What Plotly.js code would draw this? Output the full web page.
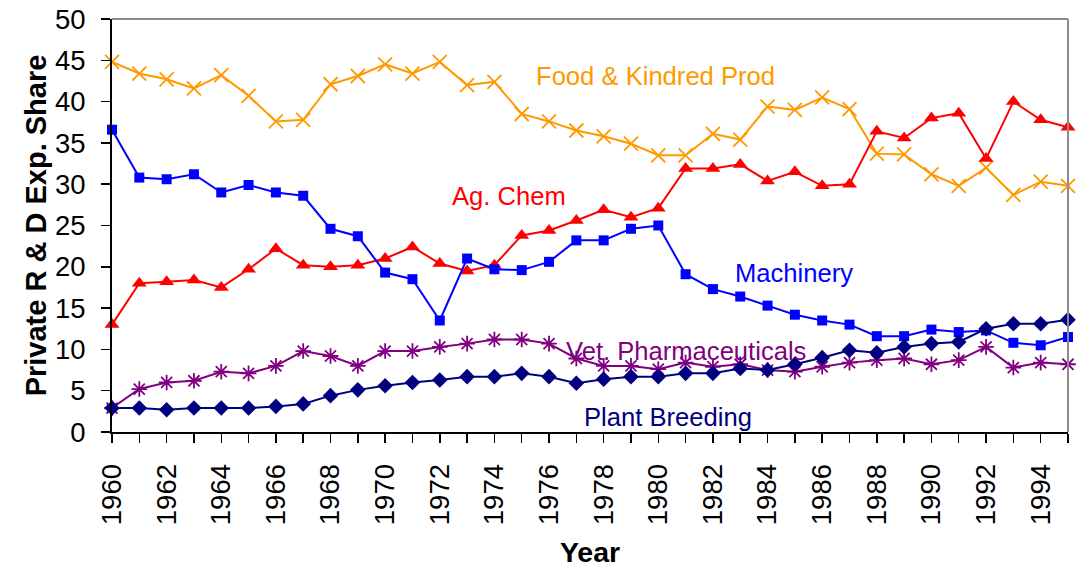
<!DOCTYPE html>
<html>
<head>
<meta charset="utf-8">
<script src="https://cdn.plot.ly/plotly-3.0.1.min.js"></script>
<style>html,body{margin:0;padding:0;background:#fff;}#chart{width:1080px;height:570px;}</style>
</head>
<body>
<div id="chart"></div>
<script>
const years = [1960,1961,1962,1963,1964,1965,1966,1967,1968,1969,1970,1971,1972,1973,1974,1975,1976,1977,1978,1979,1980,1981,1982,1983,1984,1985,1986,1987,1988,1989,1990,1991,1992,1993,1994,1995];

const foodKindred = [44.8,43.4,42.7,41.6,43.2,40.7,37.6,37.8,42.1,43.1,44.5,43.4,44.8,42.0,42.4,38.5,37.6,36.5,35.8,34.9,33.5,33.5,36.1,35.4,39.4,39.0,40.5,39.1,33.7,33.6,31.2,29.8,32.0,28.7,30.3,29.8];
const agChem      = [13.0,18.0,18.2,18.4,17.5,19.7,22.2,20.2,20.0,20.2,21.0,22.4,20.4,19.5,20.2,23.8,24.4,25.6,26.9,26.0,27.1,31.9,31.9,32.4,30.4,31.5,29.8,30.0,36.4,35.6,38.0,38.6,33.1,40.0,37.8,36.9];
const machinery   = [36.6,30.8,30.6,31.2,29.0,29.9,29.0,28.6,24.6,23.7,19.3,18.5,13.5,21.0,19.7,19.6,20.6,23.2,23.2,24.6,25.0,19.1,17.3,16.4,15.3,14.2,13.5,13.0,11.6,11.6,12.4,12.1,12.3,10.8,10.5,11.5];
const vetPharma   = [2.9,5.2,6.0,6.2,7.3,7.1,8.0,9.8,9.2,8.0,9.8,9.8,10.3,10.7,11.2,11.2,10.7,8.9,8.0,8.0,7.6,8.4,7.9,8.2,7.5,7.3,7.9,8.4,8.7,8.9,8.2,8.7,10.3,7.8,8.4,8.2];
const plantBreed  = [2.9,2.9,2.7,2.9,2.9,2.9,3.1,3.4,4.4,5.1,5.6,6.0,6.3,6.7,6.7,7.1,6.7,5.9,6.4,6.7,6.7,7.1,7.1,7.7,7.5,8.2,9.0,9.9,9.6,10.3,10.7,10.9,12.5,13.1,13.1,13.6];

const seriesNames = ["Food & Kindred Prod","Ag. Chem","Machinery","Vet. Pharmaceuticals","Plant Breeding"];
const yTitle = "Private R & D Exp. Share";
const xTitle = "Year";

const FONT = "Liberation Sans, Arial, sans-serif";

function tr(y, name, color, symbol, size) {
  return {
    x: years, y: y, name: name, type: "scatter", mode: "lines+markers",
    line: {color: color, width: 2},
    marker: {symbol: symbol, size: size, color: color, line: {color: color, width: (symbol.indexOf("open") >= 0 ? 1.8 : 0)}},
    cliponaxis: false, showlegend: false
  };
}

const data = [
  tr(foodKindred, seriesNames[0], "#FF9900", "x-thin-open", 14),
  tr(agChem, seriesNames[1], "#FF0000", "triangle-up", 13),
  tr(machinery, seriesNames[2], "#0000FF", "square", 10),
  tr(vetPharma, seriesNames[3], "#800080", "asterisk-open", 13),
  tr(plantBreed, seriesNames[4], "#000080", "diamond", 12)
];

function lab(text, x, y, color) {
  return {text: text, x: x, y: y, xref: "x", yref: "y", xanchor: "left", yanchor: "middle",
          showarrow: false, font: {family: FONT, size: 25.6, color: color}};
}

const layout = {
  width: 1080, height: 570,
  margin: {l: 112, r: 12, t: 19, b: 138},
  paper_bgcolor: "#ffffff", plot_bgcolor: "#ffffff",
  font: {family: FONT, color: "#000000"},
  xaxis: {
    range: [1960, 1995], tickmode: "linear", tick0: 1960, dtick: 2,
    ticks: "outside", ticklen: 9, tickwidth: 1.5, tickcolor: "#000",
    minor: {dtick: 1, ticks: "outside", ticklen: 9, tickwidth: 1.5, tickcolor: "#000"},
    tickangle: -90, tickfont: {family: FONT, size: 27.5, color: "#000"},
    ticklabelstandoff: 10,
    showline: true, linecolor: "#000", linewidth: 2,
    showgrid: false, zeroline: false,
    title: {text: xTitle, font: {family: FONT, size: 28.5, color: "#000", weight: "bold"}, standoff: 18}
  },
  yaxis: {
    range: [0, 50], tickmode: "linear", tick0: 0, dtick: 5,
    ticks: "outside", ticklen: 9, tickwidth: 1.5, tickcolor: "#000",
    tickfont: {family: FONT, size: 27.5, color: "#000"},
    ticklabelstandoff: 10,
    showline: true, linecolor: "#000", linewidth: 2,
    showgrid: false, zeroline: false,
    title: {text: yTitle, font: {family: FONT, size: 29, color: "#000", weight: "bold"}, standoff: 0}
  },
  shapes: [
    {type: "line", xref: "paper", yref: "paper", x0: 0, x1: 1, y0: 1, y1: 1, line: {color: "#8c8c8c", width: 2}},
    {type: "line", xref: "paper", yref: "paper", x0: 1, x1: 1, y0: 0, y1: 1, line: {color: "#8c8c8c", width: 2}}
  ],
  annotations: [
    lab(seriesNames[0], 1975.45, 43.1, "#FF9900"),
    lab(seriesNames[1], 1972.36, 28.6, "#FF0000"),
    lab(seriesNames[2], 1982.72, 19.3, "#0000FF"),
    lab(seriesNames[3], 1976.53, 9.8, "#800080"),
    lab(seriesNames[4], 1977.2, 1.8, "#000080")
  ]
};

Plotly.newPlot("chart", data, layout, {displayModeBar: false, staticPlot: true});
</script>
</body>
</html>
